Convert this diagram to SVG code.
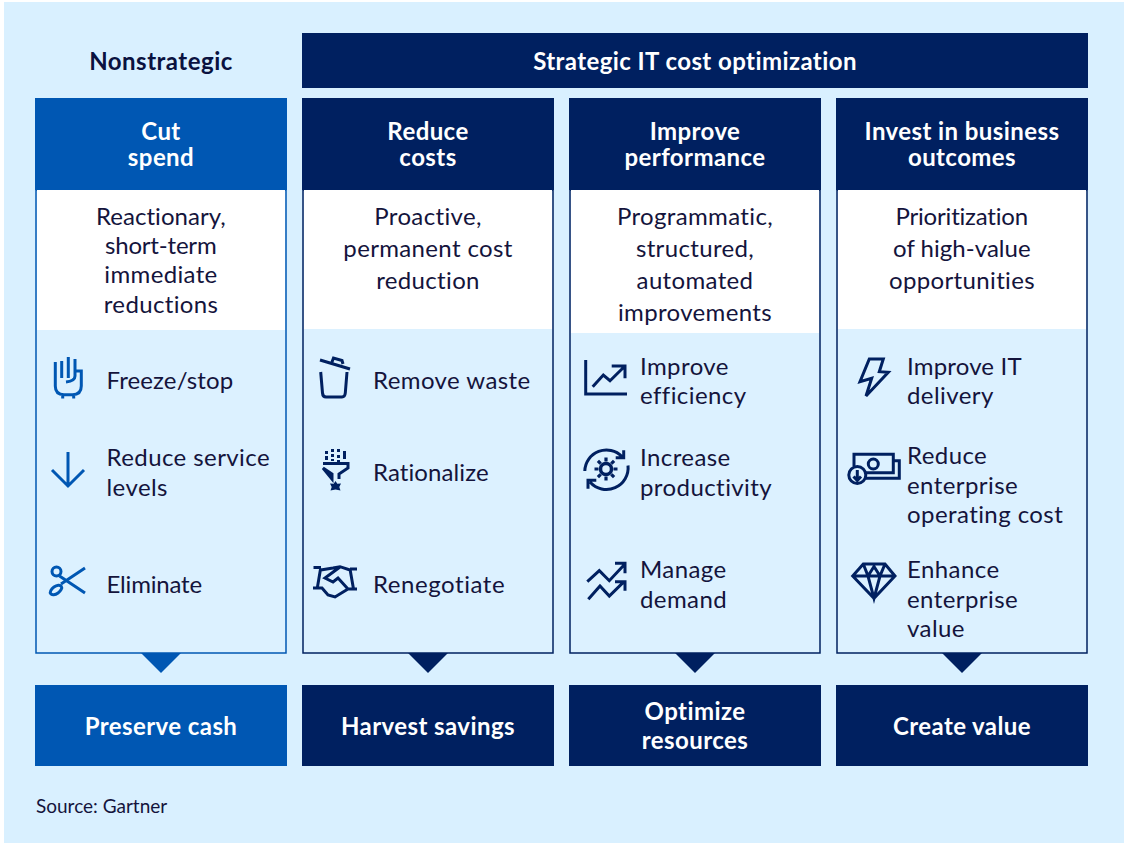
<svg xmlns="http://www.w3.org/2000/svg" width="1124" height="843" viewBox="0 0 1124 843">
<style>
text{font-family:"Lato","Liberation Sans",sans-serif}
.h{font-size:24px;font-weight:700;fill:#fff;text-anchor:middle;letter-spacing:.42px}
.d{font-size:24px;fill:#14143c;text-anchor:middle;letter-spacing:.35px}
.t{font-size:24px;fill:#14143c;letter-spacing:.42px}
.nb{fill:#002060}.bb{fill:#0057b3}
.panel{fill:#dcf1ff}
.i{fill:none;stroke-width:3;stroke-linejoin:miter}
.ib{stroke:#0057b3}.in{stroke:#002060}
</style>
<rect width="1124" height="843" fill="#fff"/>
<rect x="4" y="2" width="1120" height="841" fill="#d9f0ff"/>
<g id="nonstrategic"><text x="161" y="70" font-size="24" font-weight="700" fill="#0a1240" text-anchor="middle" letter-spacing=".5">Nonstrategic</text></g>
<g id="strategic"><rect x="302" y="33" width="786" height="55" class="nb"/><text class="h" x="695" y="70">Strategic IT cost optimization</text></g>

<g id="col-cut">
<rect x="36" y="190" width="250" height="463" class="panel" stroke="#0057b3" stroke-width="1.5"/>
<rect x="37" y="190" width="248" height="140" fill="#fff"/>
<rect x="35" y="98" width="252" height="92" class="bb"/>
<text class="h" text-anchor="middle"><tspan x="161" y="140">Cut</tspan><tspan x="161" y="166">spend</tspan></text>
<text class="d" x="161" y="225" textLength="130">Reactionary,</text><text class="d" x="161" y="254" textLength="112">short-term</text><text class="d" x="161" y="283">immediate</text><text class="d" x="161" y="313">reductions</text>
<path class="i ib" d="M55.300 362V386Q55.300 394.700 64 394.700H72.500Q81.300 394.700 81.300 386V371H75V376Q75 381 66 382M61.700 378V361M68.300 378V357M75 371V359M62.700 395V398.500M73.700 395V398.500"/>
<text class="t" x="106.500" y="389" textLength="127">Freeze/stop</text>
<path class="i ib" d="M68 452V486M52 470L68 486L84 470"/>
<text class="t" x="106.500" y="466">Reduce service</text><text class="t" x="106.500" y="496">levels</text>
<path class="i ib" d="M59.500 576L85 593M61 584L85 568"/><circle class="i ib" cx="56.500" cy="571.500" r="4.500"/><ellipse class="i ib" cx="56" cy="590" rx="6.500" ry="3.600" transform="rotate(-35 56 590)"/>
<text class="t" x="106.500" y="593" textLength="96">Eliminate</text>
<path class="bb" d="M141 653H181L161 673Z"/>
<rect x="35" y="685" width="252" height="81" class="bb"/>
<text class="h" x="161" y="735">Preserve cash</text>
</g>

<g id="col-reduce">
<rect x="303" y="190" width="250" height="463" class="panel" stroke="#002060" stroke-width="1.5"/>
<rect x="304" y="190" width="248" height="139" fill="#fff"/>
<rect x="302" y="98" width="252" height="92" class="nb"/>
<text class="h"><tspan x="428" y="140">Reduce</tspan><tspan x="428" y="166">costs</tspan></text>
<text class="d" x="428" y="225">Proactive,</text><text class="d" x="428" y="257">permanent cost</text><text class="d" x="428" y="289">reduction</text>
<path class="i in" d="M320 360L350 369M332 362L333.500 358L342 360.500L343 364M320.700 372L322.500 393Q322.800 397 326 397H342Q345 397 345.300 393L347 372"/>
<text class="t" x="373" y="389">Remove waste</text>
<path class="i in" d="M323 463.500H348V468L339 474V479M332 479V474L323 468Z"/>
<path fill="#002060" d="M325 451h3v3h-3zM331 449h3v3h-3zM337 449h3v3h-3zM343 451h3v8h-3zM325 456h3v4h-3zM331 454h3v3h-3zM331 459h3v2h-3zM337 455h3v3h-3zM337 460h3v2h-3zM335.500 481L337.300 483.700L341 483.500L339.300 487L340.500 490.500L335.500 489.500L330.500 490.500L331.700 487L330 483.500L333.700 483.700Z"/>
<text class="t" x="373" y="481" textLength="116">Rationalize</text>
<path class="i in" d="M313.500 567.500H321M320.700 568L317.300 588M313 588H322L328 595L335 597L348 589M357 569H350M350 569L353.500 589M357 589H348M320.700 570L333 568L340 566.700L350 570M340 567L325 578L333 582L338 578L348 589"/>
<text class="t" x="373" y="593" textLength="132">Renegotiate</text>
<path class="nb" d="M408 653H448L428 673Z"/>
<rect x="302" y="685" width="252" height="81" class="nb"/>
<text class="h" x="428" y="735">Harvest savings</text>
</g>

<g id="col-improve">
<rect x="570" y="190" width="250" height="463" class="panel" stroke="#002060" stroke-width="1.5"/>
<rect x="571" y="190" width="248" height="143" fill="#fff"/>
<rect x="569" y="98" width="252" height="92" class="nb"/>
<text class="h"><tspan x="695" y="140">Improve</tspan><tspan x="695" y="166">performance</tspan></text>
<text class="d" x="695" y="225">Programmatic,</text><text class="d" x="695" y="257">structured,</text><text class="d" x="695" y="289">automated</text><text class="d" x="695" y="321">improvements</text>
<path class="i in" d="M585.700 360V394H627M592.700 386.700L603.300 375L610 380.700L624 367M611.700 366H625V378.300"/>
<text class="t" x="640" y="375">Improve</text><text class="t" x="640" y="404">efficiency</text>
<g class="i in"><circle cx="606" cy="469" r="5.500" stroke-width="3.500"/><path stroke-width="3.200" d="M606 457.500V461.500M606 476.500V480.500M594.500 469H598.500M613.500 469H617.500M597.900 460.900L600.700 463.700M611.300 474.300L614.100 477.100M597.900 477.100L600.700 474.300M611.300 463.700L614.100 460.900"/>
<path d="M584.800 471A21.700 21.700 0 0 1 622 456.500M628 465.500A21.700 21.700 0 0 1 590 482M615.700 457.700H623.700V450.300M596.300 480.300H588V488.700"/></g>
<text class="t" x="640" y="466">Increase</text><text class="t" x="640" y="496">productivity</text>
<path class="i in" d="M587.300 581.700L599.300 570.700L609.300 580.700L624 565M615 563.300H625V573.300M588.300 599.300L600 586L609.300 596L624 581.700M615 581.700H625V590.700"/>
<text class="t" x="640" y="578">Manage</text><text class="t" x="640" y="608">demand</text>
<path class="nb" d="M675 653H715L695 673Z"/>
<rect x="569" y="685" width="252" height="81" class="nb"/>
<text class="h" x="695" y="720">Optimize</text><text class="h" x="695" y="749">resources</text>
</g>

<g id="col-invest">
<rect x="837" y="190" width="250" height="463" class="panel" stroke="#002060" stroke-width="1.5"/>
<rect x="838" y="190" width="248" height="139" fill="#fff"/>
<rect x="836" y="98" width="252" height="92" class="nb"/>
<text class="h"><tspan x="962" y="140">Invest in business</tspan><tspan x="962" y="166">outcomes</tspan></text>
<text class="d" x="962" y="225" textLength="133">Prioritization</text><text class="d" x="962" y="257" textLength="138">of high-value</text><text class="d" x="962" y="289">opportunities</text>
<path class="i in" d="M869.300 359H883.300L879.300 371.700L888.300 372.300L866 396L871.700 378.300L860 381.700Z"/>
<text class="t" x="907" y="375" textLength="115">Improve IT</text><text class="t" x="907" y="404">delivery</text>
<g class="i in"><path d="M854 466V454.300H893.300V472.700H866M893.300 460.700H899.300V478.300H866"/><circle cx="873.300" cy="464" r="5"/><circle cx="857.300" cy="475" r="8.500"/><path d="M857.300 470V480M853.500 476.500L857.300 480.500L861 476.500"/></g>
<text class="t" x="907" y="464">Reduce</text><text class="t" x="907" y="494">enterprise</text><text class="t" x="907" y="523">operating cost</text>
<path class="i in" d="M852.700 576L863.300 564H885L895 576L874 598.300ZM852.700 576H895M863.300 564L868 576L874 598.300L880 576L885 564M868 576L874 566.500L880 576"/>
<text class="t" x="907" y="578">Enhance</text><text class="t" x="907" y="608">enterprise</text><text class="t" x="907" y="637">value</text>
<path class="nb" d="M942 653H982L962 673Z"/>
<rect x="836" y="685" width="252" height="81" class="nb"/>
<text class="h" x="962" y="735">Create value</text>
</g>
<text x="36" y="813" font-size="19" fill="#14143c">Source: Gartner</text>
</svg>
